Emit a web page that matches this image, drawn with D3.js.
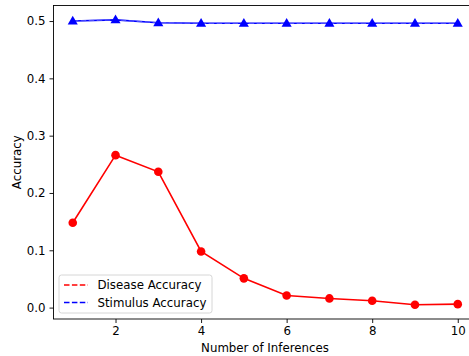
<!DOCTYPE html>
<html><head><meta charset="utf-8">
<script src="https://cdn.jsdelivr.net/npm/d3@7"></script>
<style>body{margin:0;background:#fff}svg{display:block}text{font-family:"DejaVu Sans",sans-serif}</style>
</head><body>
<script>
const inferences = [1,2,3,4,5,6,7,8,9,10];
const diseaseAcc = [0.148,0.266,0.237,0.098,0.051,0.021,0.016,0.012,0.005,0.006];
const stimulusAcc = [0.500,0.502,0.497,0.496,0.496,0.496,0.496,0.496,0.496,0.496];
const xTicks = [2,4,6,8,10];
const yTicks = [0.0,0.1,0.2,0.3,0.4,0.5];

const W=469,H=356,FS=11.8;
const L=53.5,R=477,T=5.5,B=319;
const svg=d3.select("body").append("svg").attr("width",W).attr("height",H);
const x=d3.scaleLinear().domain([0.55,10.45]).range([L,R]);
const y=d3.scaleLinear().domain([-0.0199,0.5271]).range([B,T]);

const xa=svg.append("g").attr("transform",`translate(0,${B})`)
  .call(d3.axisBottom(x).tickValues(xTicks).tickFormat(d3.format("d")).tickSize(4).tickPadding(3.5).tickSizeOuter(0));
const ya=svg.append("g").attr("transform",`translate(${L},0)`)
  .call(d3.axisLeft(y).tickValues(yTicks).tickFormat(d3.format(".1f")).tickSize(4).tickPadding(4).tickSizeOuter(0));
[xa,ya].forEach(a=>{a.selectAll("text").attr("font-size",FS).attr("fill","#000").attr("font-family","DejaVu Sans");a.selectAll("line").attr("stroke","#000").attr("stroke-width",0.9);a.select(".domain").remove();});
svg.append("rect").attr("x",L).attr("y",T).attr("width",R-L).attr("height",B-T).attr("fill","none").attr("stroke","#000").attr("stroke-width",0.9);

const line=d3.line().x((d,i)=>x(inferences[i])).y(d=>y(d));
svg.append("path").attr("d",line(diseaseAcc)).attr("fill","none").attr("stroke","red").attr("stroke-width",1.6);
svg.append("path").attr("d",line(stimulusAcc)).attr("fill","none").attr("stroke","blue").attr("stroke-width",1.6);
svg.append("path").attr("d",line(stimulusAcc)).attr("fill","none").attr("stroke","#6a6aff").attr("stroke-width",1.2).attr("stroke-dasharray","5.5,2.5").attr("opacity",0.7);
svg.selectAll(".dot").data(diseaseAcc).enter().append("circle")
  .attr("cx",(d,i)=>x(inferences[i])).attr("cy",d=>y(d)).attr("r",4.3).attr("fill","red");
const tri=d3.symbol().type(d3.symbolTriangle).size(44);
svg.selectAll(".tri").data(stimulusAcc).enter().append("path")
  .attr("d",tri).attr("transform",(d,i)=>`translate(${x(inferences[i])},${y(d)+0.5})`).attr("fill","blue");

svg.append("text").attr("x",265).attr("y",352).attr("text-anchor","middle").attr("font-size",FS).text("Number of Inferences");
svg.append("text").attr("transform",`translate(21,${(T+B)/2}) rotate(-90)`).attr("text-anchor","middle").attr("font-size",FS).text("Accuracy");

const lg=svg.append("g");
lg.append("rect").attr("x",59).attr("y",275).attr("width",153).attr("height",38).attr("rx",2.5).attr("fill","#fff").attr("fill-opacity",0.8).attr("stroke","#ccc").attr("stroke-width",0.8);
const items=[{label:"Disease Accuracy",color:"red"},{label:"Stimulus Accuracy",color:"blue"}];
items.forEach((it,i)=>{
  const yy=285+i*17.5;
  lg.append("line").attr("x1",64).attr("x2",88).attr("y1",yy).attr("y2",yy).attr("stroke",it.color).attr("stroke-width",1.6).attr("stroke-dasharray","5.5,2.4");
  lg.append("text").attr("x",97.5).attr("y",yy+4.2).attr("font-size",FS).text(it.label);
});
</script>
</body></html>
